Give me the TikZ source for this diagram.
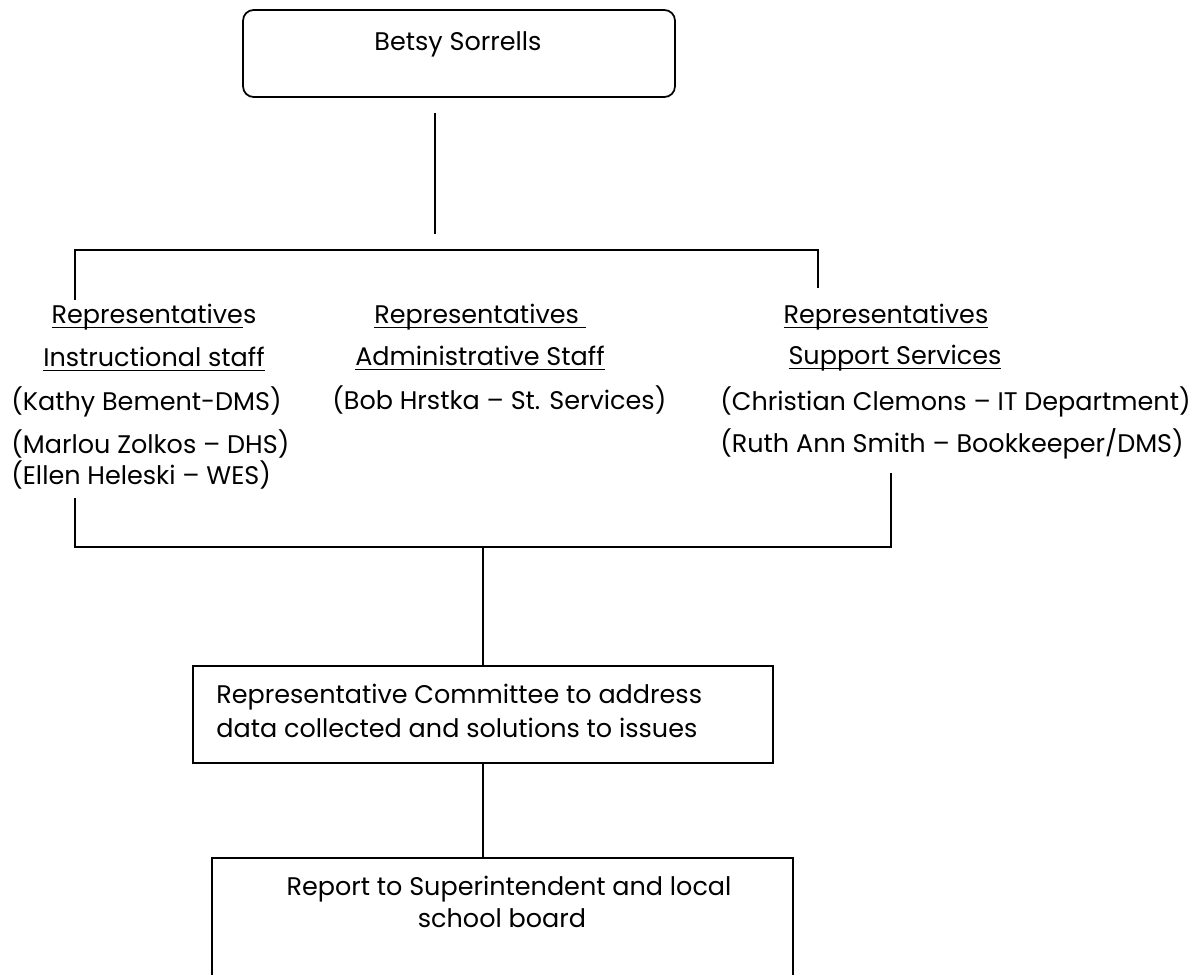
\documentclass[tikz,border=0pt]{standalone}
\usepackage{fontspec}
\setmainfont{Poppins}
\usetikzlibrary{positioning}
\newcommand{\ulbox}[1]{\setbox0\hbox{#1}\rlap{\rule[-2.8pt]{\wd0}{0.8pt}}\box0}

\begin{document}
\begin{tikzpicture}[x=0.02cm,y=-0.02cm,
	txt/.style={font=\fontsize{14.5}{17}\selectfont,inner sep=0pt,anchor=base},
	txtl/.style={txt,anchor=base west},
	line/.style={line width=1pt},
	topbox/.style={draw,line width=1pt,rounded corners=6pt,minimum width=8.64cm,minimum height=1.74cm},
	plainbox/.style={draw,line width=1pt,minimum height=1.94cm}]
	\useasboundingbox (0,0) rectangle (1190,974);
	% head
	\node[topbox] (betsy) at (459,53.5) {};
	\node[txt] (betsyname) at (458,50) {Betsy Sorrells};
	\coordinate (stemtop) at (435,113);
	\coordinate (stembot) at (435,234);
	\draw[line] (stemtop) -- (stembot);
	\coordinate (barleft) at (75,300);
	\coordinate (barright) at (818,288);
	\draw[line] (barleft) -- ++(0,-50) -| (barright);
	% representatives
	\node[txt] (leftrep) at (154,323) {\ulbox{Representative}s};
	\node[txt] (leftgrp) at (154,366) {\ulbox{Instructional staff}};
	\node[txtl] (kathy) at (11,410) {(Kathy Bement-DMS)};
	\node[txtl] (marlou) at (11,453) {(Marlou Zolkos – DHS)};
	\node[txtl] (ellen) at (11,484) {(Ellen Heleski – WES)};
	\node[txt] (midrep) at (480,323) {\ulbox{Representatives\ }};
	\node[txt] (midgrp) at (480,365) {\ulbox{Administrative Staff}};
	\node[txtl] (bob) at (332,409) {(Bob Hrstka – St. Services)};
	\node[txt] (rightrep) at (886,323) {\ulbox{Representatives}};
	\node[txt] (rightgrp) at (895,364) {\ulbox{Support Services}};
	\node[txtl] (christian) at (720,410) {(Christian Clemons – IT Department)};
	\node[txtl] (ruth) at (720,452) {(Ruth Ann Smith – Bookkeeper/DMS)};
	% join
	\coordinate (joinleft) at (75,498);
	\coordinate (joinright) at (891,473);
	\coordinate (joinmid) at (483,547);
	\draw[line] (joinleft) -- ++(0,49) -| (joinright);
	% committee and report
	\node[plainbox,minimum width=11.6cm] (committee) at (483,714.5) {};
	\node[txtl] (comline1) at (216,703) {Representative Committee to address};
	\node[txtl] (comline2) at (216,737) {data collected and solutions to issues};
	\node[plainbox,minimum width=11.62cm,minimum height=2.8cm] (report) at (502.5,928) {};
	\node[txt] (repline1) at (509,895) {Report to Superintendent and local};
	\node[txt] (repline2) at (502,927) {school board};
	\draw[line] (joinmid) -- (committee.north);
	\draw[line] (committee.south) -- (committee.south |- report.north);
\end{tikzpicture}
\end{document}
